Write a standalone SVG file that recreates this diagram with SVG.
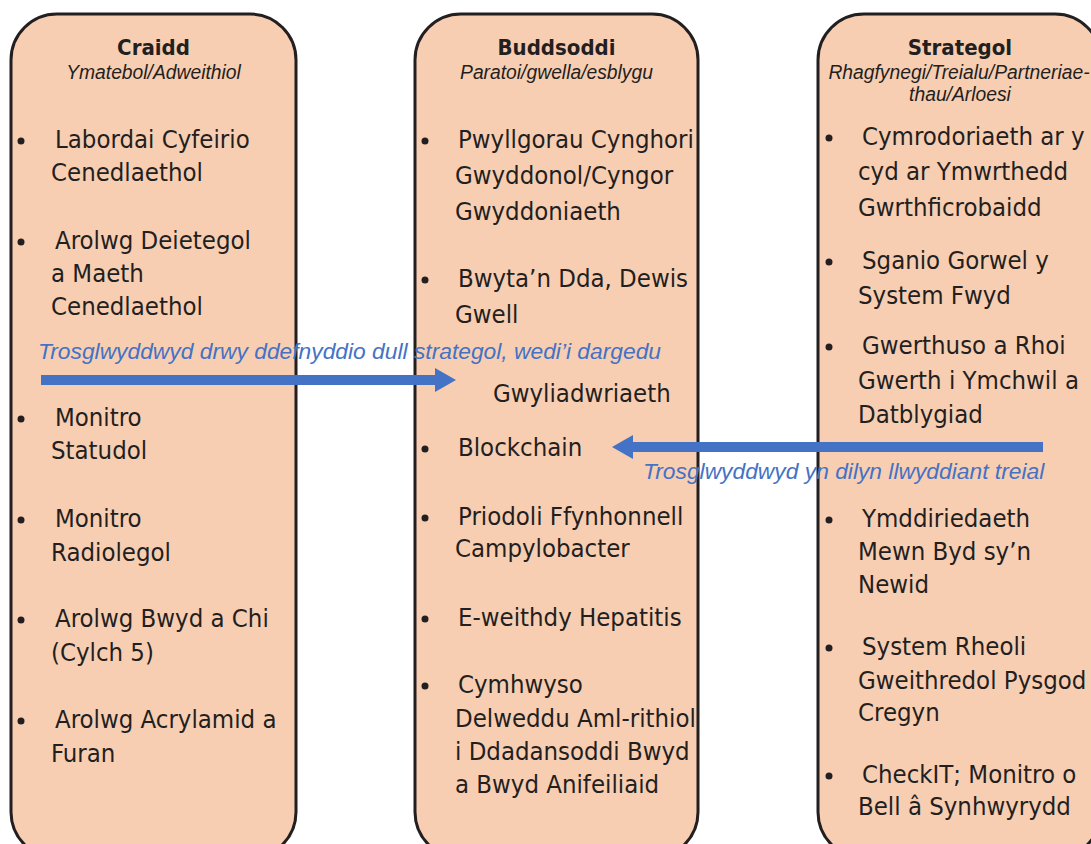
<svg xmlns="http://www.w3.org/2000/svg" width="1091" height="844" viewBox="0 0 1091 844">
<style>
.box{fill:#F8CEB3;stroke:#231F20;stroke-width:3}
.t{font-family:'DejaVu Sans Condensed','Liberation Sans Narrow','Roboto',sans-serif;font-size:25.5px;fill:#231F20}
.h{font-family:'DejaVu Sans Condensed','Liberation Sans Narrow','Roboto',sans-serif;font-size:22px;font-weight:bold;fill:#231F20;text-anchor:middle}
.s{font-family:'Liberation Sans',Arial,sans-serif;font-style:italic;font-size:19.3px;fill:#231F20;text-anchor:middle}
.lbl{font-family:'Liberation Sans',Arial,sans-serif;font-style:italic;font-size:22.8px;fill:#4472C4}
.dot{fill:#231F20}
.arr{stroke:#4472C4;stroke-width:10;fill:none}
</style>
<defs>
<marker id="ah" viewBox="0 0 21 24" refX="0" refY="12" markerWidth="21" markerHeight="24" markerUnits="userSpaceOnUse" orient="auto">
<path d="M0,0 L21,12 L0,24 Z" fill="#4472C4"/>
</marker>
</defs>
<rect width="1091" height="844" fill="#FFFFFF"/>

<g id="craidd">
<rect class="box" x="11" y="14" width="285" height="844" rx="46" ry="46"/>
<text class="h" x="153.5" y="55">Craidd</text>
<text class="s" x="153.5" y="79">Ymatebol/Adweithiol</text>
<circle class="dot" cx="21" cy="141" r="3.5"/>
<text class="t" x="55" y="148">Labordai Cyfeirio</text>
<text class="t" x="51" y="181">Cenedlaethol</text>
<circle class="dot" cx="21" cy="242" r="3.5"/>
<text class="t" x="55" y="249">Arolwg Deietegol</text>
<text class="t" x="51" y="282">a Maeth</text>
<text class="t" x="51" y="315">Cenedlaethol</text>
<circle class="dot" cx="21" cy="419" r="3.5"/>
<text class="t" x="55" y="426">Monitro</text>
<text class="t" x="51" y="459">Statudol</text>
<circle class="dot" cx="21" cy="520" r="3.5"/>
<text class="t" x="55" y="527">Monitro</text>
<text class="t" x="51" y="561">Radiolegol</text>
<circle class="dot" cx="21" cy="620" r="3.5"/>
<text class="t" x="55" y="627">Arolwg Bwyd a Chi</text>
<text class="t" x="51" y="661">(Cylch 5)</text>
<circle class="dot" cx="21" cy="721" r="3.5"/>
<text class="t" x="55" y="728">Arolwg Acrylamid a</text>
<text class="t" x="51" y="762">Furan</text>
</g>

<g id="buddsoddi">
<rect class="box" x="415" y="14" width="283" height="844" rx="46" ry="46"/>
<text class="h" x="556.5" y="55">Buddsoddi</text>
<text class="s" x="556.5" y="79">Paratoi/gwella/esblygu</text>
<circle class="dot" cx="425" cy="141" r="3.5"/>
<text class="t" x="458" y="148">Pwyllgorau Cynghori</text>
<text class="t" x="455" y="184">Gwyddonol/Cyngor</text>
<text class="t" x="455" y="220">Gwyddoniaeth</text>
<circle class="dot" cx="425" cy="280" r="3.5"/>
<text class="t" x="458" y="287">Bwyta’n Dda, Dewis</text>
<text class="t" x="455" y="323">Gwell</text>
<text class="t" x="493" y="402">Gwyliadwriaeth</text>
<circle class="dot" cx="425" cy="449" r="3.5"/>
<text class="t" x="458" y="456">Blockchain</text>
<circle class="dot" cx="425" cy="518" r="3.5"/>
<text class="t" x="458" y="525">Priodoli Ffynhonnell</text>
<text class="t" x="455" y="557">Campylobacter</text>
<circle class="dot" cx="425" cy="619" r="3.5"/>
<text class="t" x="458" y="626">E-weithdy Hepatitis</text>
<circle class="dot" cx="425" cy="686" r="3.5"/>
<text class="t" x="458" y="693">Cymhwyso</text>
<text class="t" x="455" y="727">Delweddu Aml-rithiol</text>
<text class="t" x="455" y="760">i Ddadansoddi Bwyd</text>
<text class="t" x="455" y="793">a Bwyd Anifeiliaid</text>
</g>

<g id="strategol">
<rect class="box" x="818" y="14" width="283" height="844" rx="46" ry="46"/>
<text class="h" x="960" y="55">Strategol</text>
<text class="s" x="959" y="79">Rhagfynegi/Treialu/Partneriae-</text>
<text class="s" x="960" y="101">thau/Arloesi</text>
<circle class="dot" cx="829" cy="138" r="3.5"/>
<text class="t" x="862" y="145">Cymrodoriaeth ar y</text>
<text class="t" x="858" y="180">cyd ar Ymwrthedd</text>
<text class="t" x="858" y="216">Gwrthficrobaidd</text>
<circle class="dot" cx="829" cy="262" r="3.5"/>
<text class="t" x="862" y="269">Sganio Gorwel y</text>
<text class="t" x="858" y="304">System Fwyd</text>
<circle class="dot" cx="829" cy="347" r="3.5"/>
<text class="t" x="862" y="354">Gwerthuso a Rhoi</text>
<text class="t" x="858" y="389">Gwerth i Ymchwil a</text>
<text class="t" x="858" y="423">Datblygiad</text>
<circle class="dot" cx="829" cy="520" r="3.5"/>
<text class="t" x="862" y="527">Ymddiriedaeth</text>
<text class="t" x="858" y="560">Mewn Byd sy’n</text>
<text class="t" x="858" y="593">Newid</text>
<circle class="dot" cx="829" cy="648" r="3.5"/>
<text class="t" x="862" y="655">System Rheoli</text>
<text class="t" x="858" y="689">Gweithredol Pysgod</text>
<text class="t" x="858" y="721">Cregyn</text>
<circle class="dot" cx="829" cy="776" r="3.5"/>
<text class="t" x="862" y="783">CheckIT; Monitro o</text>
<text class="t" x="858" y="815">Bell â Synhwyrydd</text>
</g>

<g id="connectors">
<line class="arr" x1="41" y1="380" x2="435" y2="380" marker-end="url(#ah)"/>
<text class="lbl" x="38" y="359">Trosglwyddwyd drwy ddefnyddio dull strategol, wedi’i dargedu</text>
<line class="arr" x1="1043" y1="447" x2="633" y2="447" marker-end="url(#ah)"/>
<text class="lbl" x="643" y="479">Trosglwyddwyd yn dilyn llwyddiant treial</text>
</g>
</svg>
